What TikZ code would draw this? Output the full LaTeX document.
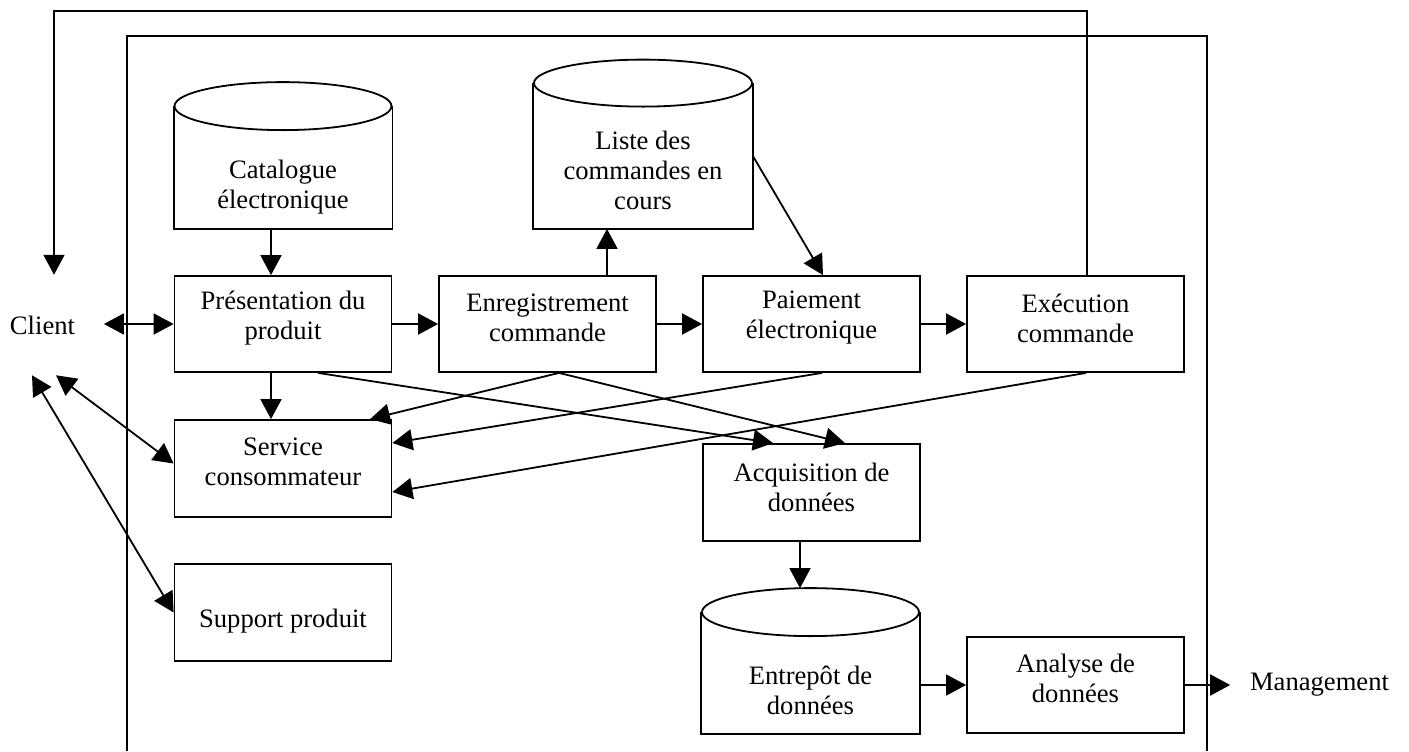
\documentclass[tikz,border=0pt]{standalone}
\usepackage{fontspec}
\setmainfont{Liberation Serif}
\usetikzlibrary{arrows.meta}
\begin{document}
\begin{tikzpicture}[x=0.5pt,y=-0.5pt,
  line width=0.9pt,
  every node/.style={font=\fontsize{13.3}{15}\selectfont},
  box/.style={draw, rectangle, minimum width=108.5pt, minimum height=48pt, inner sep=0pt},
  body/.style={rectangle, minimum width=108.5pt, inner sep=0pt},
  txt/.style={align=center, inner sep=0pt},
  arr/.style={-{Triangle[length=10pt,width=10.5pt]}},
  darr/.style={{Triangle[length=10pt,width=10.5pt]}-{Triangle[length=10pt,width=10.5pt]}},
]
\useasboundingbox (0,0) rectangle (1409,751);

% frame
\draw (127,751) -- (127,36) -- (1207,36) -- (1207,751);

% cylinders
\node[body, minimum height=60.5pt] (cat) at (283,167.5) {};
\draw (cat.north west) -- (cat.south west) -- (cat.south east) -- (cat.north east);
\draw[fill=white] (cat.north) ellipse [x radius=54.25pt, y radius=12pt];
\node[txt] at (283,187) {Catalogue\\électronique};

\node[body, minimum width=109pt, minimum height=72pt] (liste) at (643,156) {};
\draw (liste.north west) -- (liste.south west) -- (liste.south east) -- (liste.north east);
\draw[fill=white] (liste.north) ellipse [x radius=54.5pt, y radius=11.75pt];
\node[txt] at (643,170) {Liste des\\commandes en\\cours};

\node[body, minimum height=60pt] (ent) at (810.5,673) {};
\draw (ent.north west) -- (ent.south west) -- (ent.south east) -- (ent.north east);
\draw[fill=white] (ent.north) ellipse [x radius=54.25pt, y radius=12pt];
\node[txt] at (810.5,690.5) {Entrepôt de\\données};

% boxes
\node[box] (pres) at (283,324) {};
\node[txt] at (283,318) {Présentation du\\produit};
\node[box] (enr) at (547.5,324) {};
\node[txt] at (547.5,318) {Enregistrement\\commande};
\node[box] (paie) at (811.5,324) {};
\node[txt] at (811.5,318) {Paiement\\électronique};
\node[box] (exec) at (1075.5,324) {};
\node[txt] at (1075.5,318) {Exécution\\commande};
\node[box, minimum height=48.5pt] (serv) at (283,468.5) {};
\node[txt] at (283,461.5) {Service\\consommateur};
\node[box, minimum height=48.5pt] (supp) at (283,612.5) {};
\node[txt] at (283,621) {Support produit};
\node[box, minimum height=48.5pt] (acq) at (811.5,492.5) {};
\node[txt] at (811.5,487) {Acquisition de\\données};
\node[box] (ana) at (1075.5,685) {};
\node[txt] at (1075.5,678) {Analyse de\\données};

% outer labels
\node[inner xsep=14pt, inner ysep=20pt] (client) at (42.5,325) {Client};
\node[inner xsep=9.5pt, inner ysep=2pt] (mgmt) at (1319.5,685) {Management};

% connectors
\draw[arr] ([xshift=-6pt]cat.south) -- ([xshift=-6pt]pres.north);
\draw[arr] ([xshift=-6pt]pres.south) -- ([xshift=-6pt]serv.north);
\draw[darr] (client.east |- pres.west) -- (pres.west);
\draw[darr] ([xshift=6.75pt]client.south) -- ([yshift=2.5pt]serv.west);
\draw[darr] ([xshift=-5.25pt]client.south) -- (supp.west);
\draw[arr] (pres.east) -- (enr.west);
\draw[arr] (enr.east) -- (paie.west);
\draw[arr] (paie.east) -- (exec.west);
\draw[arr] ([xshift=29.75pt]enr.north) -- ([xshift=-18pt]liste.south);
\draw[arr] (liste.east) -- ([xshift=5.75pt]paie.north);
\draw[arr] ([xshift=5.75pt]exec.north) -- ++(0,-264) -| ([xshift=5.75pt]client.north);
\draw[arr] ([xshift=17.5pt]pres.south) -- ([xshift=-19.25pt]acq.north);
\draw[arr] ([xshift=5.75pt]enr.south) -- ([xshift=16.75pt]acq.north);
\draw[arr] ([xshift=5.75pt]enr.south) -- ([xshift=43.5pt]serv.north);
\draw[arr] ([xshift=5.25pt]paie.south) -- ([yshift=12.75pt]serv.east);
\draw[arr] ([xshift=5.25pt]exec.south) -- ([yshift=-11.75pt]serv.east);
\draw[arr] ([xshift=-5.75pt]acq.south) -- ([xshift=-5.25pt,yshift=12pt]ent.north);
\draw[arr] (ent.east |- ana.west) -- (ana.west);
\draw[arr] (ana.east) -- (mgmt.west);
\end{tikzpicture}
\end{document}
